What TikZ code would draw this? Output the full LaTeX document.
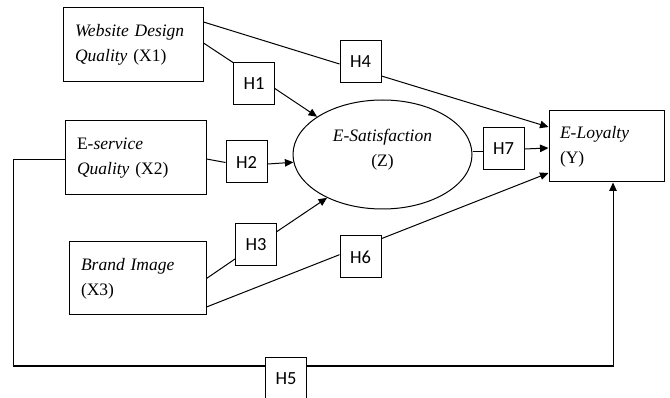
\documentclass[tikz,border=0pt]{standalone}
\usepackage{fontspec}
\setmainfont{Liberation Serif}
\newfontfamily\hfont{Carlito}
\usetikzlibrary{arrows.meta,shapes.geometric}
\tikzset{var/.style={draw,line width=1pt,align=left,inner sep=0pt,
    font=\fontsize{17.5}{25}\selectfont}}
\tikzset{hyp/.style={draw,fill=white,line width=1pt,minimum width=41pt,
    minimum height=42pt,inner sep=0pt,font=\hfont\fontsize{18.5}{20}\selectfont}}
\tikzset{arr/.style={-{Triangle[length=8.5pt,width=7.5pt]}}}

\begin{document}
\begin{tikzpicture}
                [x=1pt,y=-1pt,line width=1pt]
                \useasboundingbox (0,0) rectangle (670,398);
                \node [var,minimum width=140pt,minimum height=74pt,text width=116pt] (x1) at (133,45)
                    {\textit{Website Design}\\\textit{Quality} (X1)};
                \node [var,minimum width=141pt,minimum height=74pt,text width=117pt] (x2) at (135.5,158)
                    {E-\textit{service}\\\textit{Quality} (X2)};
                \node [var,minimum width=137pt,minimum height=73pt,text width=113pt] (x3) at (137.5,278.5)
                    {\textit{Brand Image}\\(X3)};
                \node [var,minimum width=115pt,minimum height=71pt,text width=93pt] (y) at (606.5,146.5)
                    {\textit{E-Loyalty}\\(Y)};
                \node [var,ellipse,align=center,text depth=14pt,minimum width=179pt,minimum height=109pt] (z) at (382.5,154.5)
                    {\textit{E-Satisfaction}\\(Z)};
                
                \coordinate (lp) at (13,366);
                \draw [arr] ([yshift=-2pt]x2.west) -| (lp) -| ([xshift=6.5pt]y.south);
                
                \node [hyp] (h1) at (254,84) {H1};
                \node [hyp] (h2) at (246.5,162) {H2};
                \node [hyp] (h3) at (256,245) {H3};
                \node [hyp] (h4) at (360.5,61.5) {H4};
                \node [hyp] (h5) at (286,379) {H5};
                \node [hyp] (h6) at (360.5,257) {H6};
                \node [hyp] (h7) at (503.5,149) {H7};
                
                \draw ([yshift=2pt]x1.east) -- (h1.north west);
                \draw [arr] ([yshift=-4.6pt]h1.east) -- (z.150);
                \draw ([yshift=-1pt]x2.east) -- ([yshift=-0.5pt]h2.west);
                \draw [arr] ([yshift=-2pt]h2.east) -- (z.185);
                \draw (x3.east) -- ([yshift=-14pt]h3.west);
                \draw [arr] ([yshift=13.5pt]h3.east) -- (z.218);
                \draw ([yshift=23pt]x1.east) -- ([yshift=-2.5pt]h4.west);
                \draw [arr] ([yshift=-14.5pt]h4.east) -- ([yshift=19.5pt]y.west);
                \draw ([yshift=-28.5pt]x3.east) -- ([yshift=2.3pt]h6.west);
                \draw [arr] ([yshift=18.4pt]h6.east) -- ([yshift=-26.5pt]y.west);
                \draw ([yshift=2.5pt]z.east) -- ([yshift=-3pt]h7.west);
                \draw [arr] (h7.east) -- ([yshift=-1.5pt]y.west);
            \end{tikzpicture}
\end{document}
